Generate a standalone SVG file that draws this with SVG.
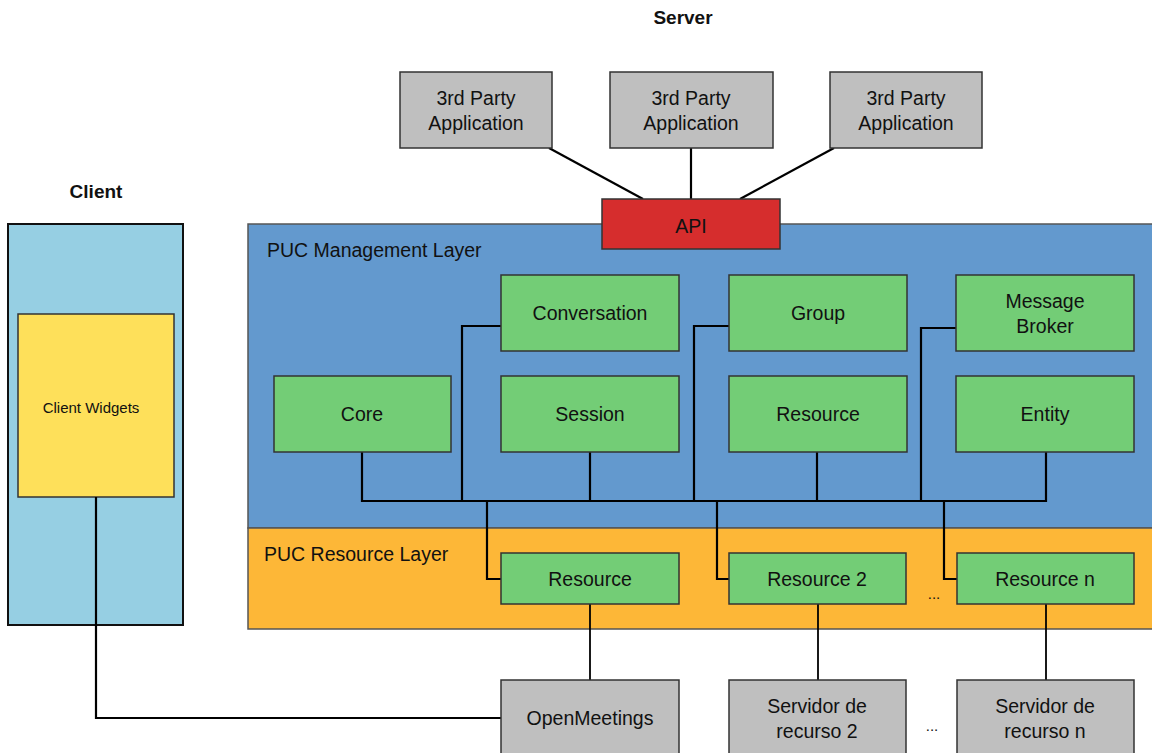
<svg xmlns="http://www.w3.org/2000/svg" width="1152" height="753" viewBox="0 0 1152 753">
  <style>
    text { font-family: "Liberation Sans", Arial, sans-serif; font-size: 19.5px; fill: #111; text-anchor: middle; }
    .title { font-weight: bold; font-size: 19px; }
    .layer-label { text-anchor: start; }
    .small { font-size: 15px; }
    .box { stroke: #333; stroke-width: 1.5; }
    .green { fill: #73CD76; }
    .gray { fill: #BFBFBF; }
    .wire { fill: none; stroke: #000; stroke-width: 2.2; }
    .wire-thin { fill: none; stroke: #000; stroke-width: 1.8; }
  </style>

  <rect width="1152" height="753" fill="#fff"/>

  <!-- Section titles -->
  <text class="title" x="683" y="24">Server</text>
  <text class="title" x="96" y="198">Client</text>

  <!-- Layers -->
  <g id="management-layer">
    <rect x="248" y="224" width="910" height="304" fill="#6399CE" stroke="#555" stroke-width="1.5"/>
    <text class="layer-label" x="267" y="257">PUC Management Layer</text>
  </g>
  <g id="resource-layer">
    <rect x="248" y="528" width="910" height="101" fill="#FDB737" stroke="#555" stroke-width="1.5"/>
    <text class="layer-label" x="264" y="561">PUC Resource Layer</text>
  </g>

  <!-- Client -->
  <g id="client">
    <rect x="8" y="224" width="175" height="401" fill="#96CFE3" stroke="#111" stroke-width="2"/>
  </g>
  <g id="client-widgets">
    <rect class="box" x="18" y="314" width="156" height="183" fill="#FEE05A"/>
    <text class="small" x="91" y="413">Client Widgets</text>
  </g>

  <!-- Connectors -->
  <g id="connectors">
    <!-- third-party apps to API -->
    <line class="wire" x1="549" y1="148" x2="643" y2="199"/>
    <line class="wire" x1="691" y1="148" x2="691" y2="199"/>
    <line class="wire" x1="834" y1="148" x2="740" y2="199"/>
    <!-- management bus -->
    <polyline class="wire" points="362,452 362,501 1046,501 1046,452"/>
    <line class="wire" x1="590" y1="452" x2="590" y2="501"/>
    <line class="wire" x1="817" y1="452" x2="817" y2="501"/>
    <polyline class="wire" points="501,326 462,326 462,501"/>
    <polyline class="wire" points="729,326 694,326 694,501"/>
    <polyline class="wire" points="956,328 921,328 921,501"/>
    <!-- bus to resource adapters -->
    <polyline class="wire" points="487,501 487,579 501,579"/>
    <polyline class="wire" points="717,501 717,579 729,579"/>
    <polyline class="wire" points="944,501 944,579 957,579"/>
    <!-- adapters to external servers -->
    <line class="wire-thin" x1="590" y1="604" x2="590" y2="680"/>
    <line class="wire-thin" x1="818" y1="604" x2="818" y2="680"/>
    <line class="wire-thin" x1="1046" y1="604" x2="1046" y2="680"/>
    <!-- client widgets to OpenMeetings -->
    <polyline class="wire" points="96,497 96,718 501,718"/>
  </g>

  <!-- Third-party applications -->
  <g id="third-party-1">
    <rect class="box gray" x="400" y="72" width="152" height="76"/>
    <text x="476" y="105">3rd Party</text>
    <text x="476" y="130">Application</text>
  </g>
  <g id="third-party-2">
    <rect class="box gray" x="610" y="72" width="163" height="76"/>
    <text x="691" y="105">3rd Party</text>
    <text x="691" y="130">Application</text>
  </g>
  <g id="third-party-3">
    <rect class="box gray" x="830" y="72" width="152" height="76"/>
    <text x="906" y="105">3rd Party</text>
    <text x="906" y="130">Application</text>
  </g>

  <!-- API -->
  <g id="api">
    <rect class="box" x="602" y="199" width="178" height="50" fill="#D62D2D"/>
    <text x="691" y="233">API</text>
  </g>

  <!-- Management modules -->
  <g id="conversation">
    <rect class="box green" x="501" y="275" width="178" height="76"/>
    <text x="590" y="320">Conversation</text>
  </g>
  <g id="group">
    <rect class="box green" x="729" y="275" width="178" height="76"/>
    <text x="818" y="320">Group</text>
  </g>
  <g id="message-broker">
    <rect class="box green" x="956" y="275" width="178" height="76"/>
    <text x="1045" y="308">Message</text>
    <text x="1045" y="333">Broker</text>
  </g>
  <g id="core">
    <rect class="box green" x="274" y="376" width="177" height="76"/>
    <text x="362" y="421">Core</text>
  </g>
  <g id="session">
    <rect class="box green" x="501" y="376" width="178" height="76"/>
    <text x="590" y="421">Session</text>
  </g>
  <g id="resource-module">
    <rect class="box green" x="729" y="376" width="178" height="76"/>
    <text x="818" y="421">Resource</text>
  </g>
  <g id="entity">
    <rect class="box green" x="956" y="376" width="178" height="76"/>
    <text x="1045" y="421">Entity</text>
  </g>

  <!-- Resource adapters -->
  <g id="resource-1">
    <rect class="box green" x="501" y="553" width="178" height="51"/>
    <text x="590" y="586">Resource</text>
  </g>
  <g id="resource-2">
    <rect class="box green" x="729" y="553" width="177" height="51"/>
    <text x="817" y="586">Resource 2</text>
  </g>
  <text x="934" y="599" class="small">...</text>
  <g id="resource-n">
    <rect class="box green" x="957" y="553" width="177" height="51"/>
    <text x="1045" y="586">Resource n</text>
  </g>

  <!-- External servers -->
  <g id="openmeetings">
    <rect class="box gray" x="501" y="680" width="178" height="80"/>
    <text x="590" y="725">OpenMeetings</text>
  </g>
  <g id="servidor-2">
    <rect class="box gray" x="729" y="680" width="177" height="80"/>
    <text x="817" y="713">Servidor de</text>
    <text x="817" y="738">recurso 2</text>
  </g>
  <text x="932" y="731" class="small">...</text>
  <g id="servidor-n">
    <rect class="box gray" x="957" y="680" width="177" height="80"/>
    <text x="1045" y="713">Servidor de</text>
    <text x="1045" y="738">recurso n</text>
  </g>
</svg>
